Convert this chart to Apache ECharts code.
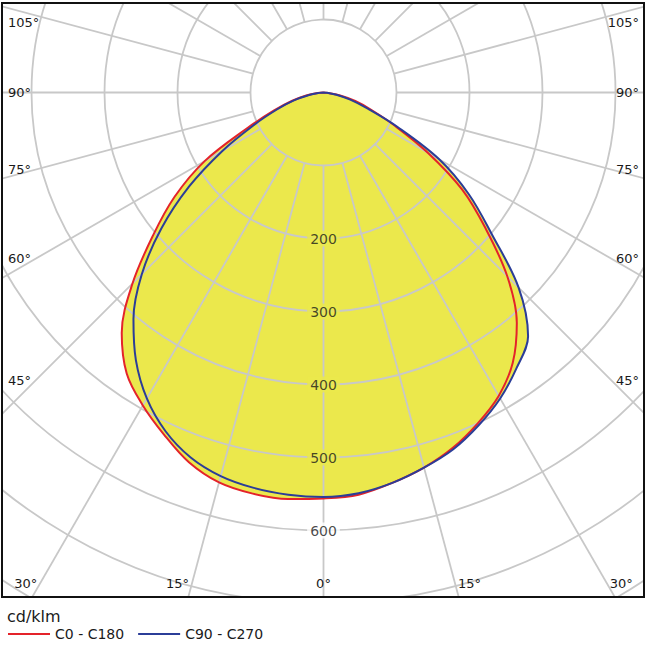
<!DOCTYPE html>
<html>
<head>
<meta charset="utf-8">
<script src="https://cdn.jsdelivr.net/npm/echarts/dist/echarts.min.js"></script>
<style>
  html, body { margin: 0; padding: 0; background: #fff; }
  #chart { width: 647px; height: 649px; }
</style>
</head>
<body>
<div id="chart"></div>
<script>
// ---- data (cd/klm) ----
const gamma = [0, 5, 10, 15, 20, 25, 30, 35, 40, 45, 50, 55, 60, 65, 70, 75, 80, 85, 90];
// C0 - C180 plane (red): right half C0, left half C180
const c0   = [556, 553, 543, 532, 518, 500, 480, 452, 412, 356, 290, 232, 165, 108, 70, 45, 22, 6, 0];
const c180 = [556, 559, 558, 553, 539, 517, 495, 470, 430, 370, 305, 249, 188, 115, 72, 45, 24, 8, 0];
// C90 - C270 plane (blue): right half C90, left half C270
const c90  = [554, 551, 543, 532, 520, 503, 484, 461, 436, 378, 300, 243, 183, 112, 64, 38, 18, 5, 0];
const c270 = [554, 553, 550, 544, 532, 512, 484, 448, 405, 352, 290, 225, 160, 105, 68, 42, 20, 6, 0];

const ringLabels = [200, 300, 400, 500, 600];
const ringValues = [100, 200, 300, 400, 500, 600, 700, 800, 900];
const radialAngles = [0, 15, 30, 45, 60, 75, 90, 105, 120, 135, 150, 165, 180, 195, 210, 225, 240, 255, 270, 285, 300, 315, 330, 345];
const sideTicks = [105, 90, 75, 60, 45];
const bottomTicks = [30, 15, 0];
const seriesNames = ['C0 - C180', 'C90 - C270'];
const unitLabel = 'cd/klm';

// ---- layout / style ----
const CX = 323.5, CY = 92.5, RPX = 657, RMAX = 900;
const FONT = 'DejaVu Sans';
const GRID = '#c8c8c8';
const YELLOW = '#ebe84c';
const RED = '#e4232a';
const BLUE = '#2b3d98';
const TXT = '#1a1a1a';
const SMOOTH = 0.35;

function curve(left, right) {
  const pts = [];
  for (let i = gamma.length - 1; i >= 0; i--) pts.push([left[i], gamma[i]]);
  for (let i = 1; i < gamma.length; i++) pts.push([right[i], 360 - gamma[i]]);
  return pts;
}
const redPts = curve(c180, c0);
const bluePts = curve(c270, c90);

const chart = echarts.init(document.getElementById('chart'), null, { renderer: 'svg' });

const graphics = [];
// white masks outside the frame
graphics.push({ type: 'rect', z: 6, silent: true, shape: { x: 0, y: 0, width: 647, height: 3 }, style: { fill: '#fff' } });
graphics.push({ type: 'rect', z: 6, silent: true, shape: { x: 0, y: 0, width: 2, height: 649 }, style: { fill: '#fff' } });
graphics.push({ type: 'rect', z: 6, silent: true, shape: { x: 644, y: 0, width: 3, height: 649 }, style: { fill: '#fff' } });
graphics.push({ type: 'rect', z: 6, silent: true, shape: { x: 0, y: 597, width: 647, height: 52 }, style: { fill: '#fff' } });
// frame
graphics.push({ type: 'rect', z: 7, silent: true, shape: { x: 2, y: 3, width: 642, height: 594 }, style: { fill: 'none', stroke: '#111', lineWidth: 2 } });

// angle tick labels placed where the rays reach the frame
const deg = Math.PI / 180;
sideTicks.forEach(function (t) {
  const g = t * deg;
  let y = CY + (CX - 36) * Math.cos(g) / Math.sin(g);
  y = Math.max(22, y);
  graphics.push({ type: 'text', z: 8, x: 8, y: y, style: { text: t + '°', font: '13px ' + FONT, fill: TXT, textAlign: 'left', textVerticalAlign: 'middle' } });
  graphics.push({ type: 'text', z: 8, x: 639, y: y, style: { text: t + '°', font: '13px ' + FONT, fill: TXT, textAlign: 'right', textVerticalAlign: 'middle' } });
});
bottomTicks.forEach(function (t) {
  const y = 583;
  const dx = (y - CY) * Math.tan(t * deg);
  if (t === 0) {
    graphics.push({ type: 'text', z: 8, x: CX, y: y, style: { text: t + '°', font: '13px ' + FONT, fill: TXT, textAlign: 'center', textVerticalAlign: 'middle' } });
  } else {
    graphics.push({ type: 'text', z: 8, x: CX - dx - 3, y: y, style: { text: t + '°', font: '13px ' + FONT, fill: TXT, textAlign: 'right', textVerticalAlign: 'middle' } });
    graphics.push({ type: 'text', z: 8, x: CX + dx + 3, y: y, style: { text: t + '°', font: '13px ' + FONT, fill: TXT, textAlign: 'left', textVerticalAlign: 'middle' } });
  }
});

const option = {
  animation: false,
  backgroundColor: '#fff',
  title: {
    text: unitLabel, left: 7, top: 608, padding: 0, z: 10,
    textStyle: { fontSize: 16, fontWeight: 'normal', color: TXT, fontFamily: FONT }
  },
  legend: {
    data: seriesNames, left: 8, top: 627, padding: 0, z: 10,
    icon: 'rect', itemWidth: 42, itemHeight: 2, itemGap: 14,
    textStyle: { fontSize: 14, color: TXT, fontFamily: FONT }
  },
  polar: { center: [CX, CY], radius: RPX },
  angleAxis: {
    type: 'value', min: 0, max: 360, startAngle: 270, clockwise: true,
    show: false
  },
  radiusAxis: {
    type: 'value', min: 0, max: RMAX, interval: 100, z: 2,
    axisLine: { show: false }, axisTick: { show: false }, axisLabel: { show: false },
    splitLine: { show: true, lineStyle: { color: GRID, width: 1.8 } }
  },
  graphic: graphics,
  series: [
    {
      type: 'line', coordinateSystem: 'polar', name: 'fill-a', data: redPts, z: 1, silent: true,
      smooth: SMOOTH, symbol: 'none', lineStyle: { width: 0 }, areaStyle: { color: YELLOW, opacity: 1 }
    },
    {
      type: 'line', coordinateSystem: 'polar', name: 'fill-b', data: bluePts, z: 1, silent: true,
      smooth: SMOOTH, symbol: 'none', lineStyle: { width: 0 }, areaStyle: { color: YELLOW, opacity: 1 }
    },
    {
      type: 'custom', coordinateSystem: 'polar', z: 2, silent: true,
      data: radialAngles.map(function (a) { return [RMAX, a]; }),
      renderItem: function (params, api) {
        const a = api.value(1);
        const p1 = api.coord([ringValues[0], a]);
        const p2 = api.coord([api.value(0), a]);
        return { type: 'line', shape: { x1: p1[0], y1: p1[1], x2: p2[0], y2: p2[1] }, style: { stroke: GRID, lineWidth: 1.8 } };
      }
    },
    {
      type: 'scatter', coordinateSystem: 'polar', z: 3, silent: true,
      symbolSize: 0.1, itemStyle: { color: 'transparent' },
      data: ringLabels.map(function (v) { return [v, 0]; }),
      label: {
        show: true, position: 'inside',
        formatter: function (p) { return '{' + (p.value[0] <= 500 ? 'y' : 'w') + '|' + p.value[0] + '}'; },
        rich: {
          y: { backgroundColor: YELLOW, padding: [1, 3], fontSize: 14, color: TXT, fontFamily: FONT },
          w: { backgroundColor: '#fff', padding: [1, 3], fontSize: 14, color: TXT, fontFamily: FONT }
        }
      }
    },
    {
      type: 'line', coordinateSystem: 'polar', name: seriesNames[0], data: redPts, z: 5,
      smooth: SMOOTH, symbol: 'none', color: RED, lineStyle: { color: RED, width: 2 }
    },
    {
      type: 'line', coordinateSystem: 'polar', name: seriesNames[1], data: bluePts, z: 5,
      smooth: SMOOTH, symbol: 'none', color: BLUE, lineStyle: { color: BLUE, width: 2 }
    }
  ]
};
chart.setOption(option);
</script>
</body>
</html>
